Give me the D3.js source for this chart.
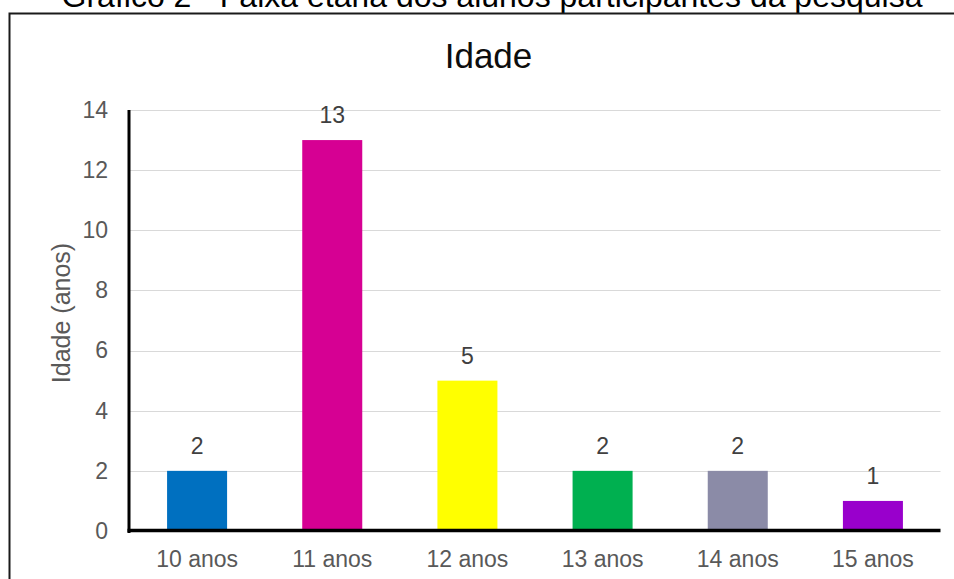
<!DOCTYPE html>
<html>
<head>
<meta charset="utf-8">
<script src="https://cdn.jsdelivr.net/npm/d3@7"></script>
<style>
  body { margin: 0; background: #fff; }
  svg { display: block; font-family: "Liberation Sans", Arial, sans-serif; }
</style>
</head>
<body>
<svg id="chart" width="954" height="579"></svg>
<script>
// chart data
var categories = ["10 anos", "11 anos", "12 anos", "13 anos", "14 anos", "15 anos"];
var values = [2, 13, 5, 2, 2, 1];
var barColors = ["#0070C0", "#D60093", "#FFFF00", "#00B050", "#8B8BA7", "#9900CC"];
var yTicks = [0, 2, 4, 6, 8, 10, 12, 14];
var figureCaption = "Gráfico 2 - Faixa etária dos alunos participantes da pesquisa";
var chartTitle = "Idade";
var yLabel = "Idade (anos)";

var svg = d3.select("#chart");

// figure caption, cut at the top like the source image
svg.append("text")
  .attr("x", 492)
  .attr("y", 7)
  .attr("text-anchor", "middle")
  .style("font-size", "32px")
  .style("fill", "#000")
  .text(figureCaption);

// chart frame
svg.append("rect")
  .attr("x", 9.5)
  .attr("y", 13.5)
  .attr("width", 1000)
  .attr("height", 700)
  .style("fill", "none")
  .style("stroke", "#1a1a1a")
  .style("stroke-width", 2);

var x = d3.scaleBand()
  .domain(categories)
  .range([129.5, 940.5])
  .paddingInner(0.556)
  .paddingOuter(0.278);

var y = d3.scaleLinear()
  .domain([0, 14])
  .range([531, 110]);

// grid lines
svg.append("g")
  .selectAll("line")
  .data(yTicks.filter(function(d) { return d > 0; }))
  .enter().append("line")
  .attr("x1", 130)
  .attr("x2", 940.5)
  .attr("y1", function(d) { return Math.round(y(d)) + 0.5; })
  .attr("y2", function(d) { return Math.round(y(d)) + 0.5; })
  .style("stroke", "#d9d9d9")
  .style("stroke-width", 1);

// bars
svg.append("g")
  .selectAll("rect")
  .data(values)
  .enter().append("rect")
  .attr("x", function(d, i) { return x(categories[i]); })
  .attr("y", function(d) { return y(d); })
  .attr("width", x.bandwidth())
  .attr("height", function(d) { return y(0) - y(d); })
  .style("fill", function(d, i) { return barColors[i]; });

// data labels
svg.append("g")
  .selectAll("text")
  .data(values)
  .enter().append("text")
  .attr("x", function(d, i) { return x(categories[i]) + x.bandwidth() / 2; })
  .attr("y", function(d) { return y(d) - 17; })
  .attr("text-anchor", "middle")
  .style("font-size", "23px")
  .style("fill", "#404040")
  .text(function(d) { return d; });

// y axis
var yAxis = svg.append("g")
  .attr("transform", "translate(129,0)")
  .call(d3.axisLeft(y).tickValues(yTicks).tickSize(0).tickPadding(21));
yAxis.select(".domain")
  .attr("d", "M0," + y(14) + "V" + (y(0) + 2))
  .style("stroke", "#000")
  .style("stroke-width", 3);
yAxis.selectAll("text")
  .style("font-size", "23px")
  .style("font-family", "Liberation Sans, Arial, sans-serif")
  .style("fill", "#595959");

// x axis
var xAxis = svg.append("g")
  .attr("transform", "translate(0,530.5)")
  .call(d3.axisBottom(x).tickSize(0).tickPadding(20));
xAxis.select(".domain")
  .attr("d", "M127.5,0H940.5")
  .style("stroke", "#000")
  .style("stroke-width", 3.5);
xAxis.selectAll("text")
  .style("font-size", "23px")
  .style("font-family", "Liberation Sans, Arial, sans-serif")
  .style("fill", "#595959");

// chart title
svg.append("text")
  .attr("x", 488.5)
  .attr("y", 68)
  .attr("text-anchor", "middle")
  .style("font-size", "35px")
  .style("fill", "#0d0d0d")
  .text(chartTitle);

// y axis label
svg.append("text")
  .attr("transform", "translate(70,313) rotate(-90)")
  .attr("text-anchor", "middle")
  .style("font-size", "25px")
  .style("fill", "#595959")
  .text(yLabel);
</script>
</body>
</html>
